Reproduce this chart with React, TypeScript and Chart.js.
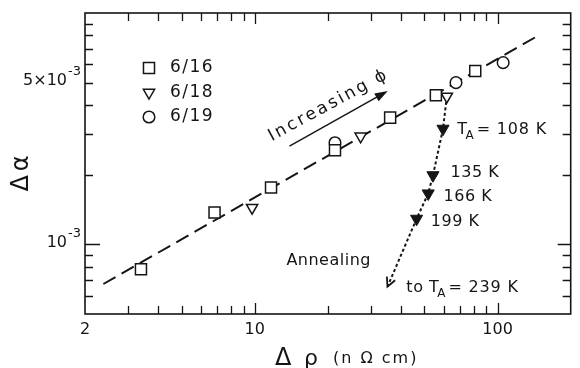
import React, { useEffect, useRef } from "react";
import { Chart, registerables } from "chart.js";

Chart.register(...registerables);

const FONT = '"DejaVu Sans", "Noto Sans", sans-serif';

// axis ranges
const xRange = [2, 200];
const yRange = [5e-4, 1e-2];

// series
const seriesLabels = ["6/16", "6/18", "6/19"];
const run616X = [3.4, 6.83, 11.67, 21.4, 36.1, 55.7, 80.9];
const run616Y = [7.8e-4, 1.374e-3, 1.76e-3, 2.55e-3, 3.53e-3, 4.41e-3, 5.61e-3];
const run618X = [9.75, 27.3, 61.8];
const run618Y = [1.44e-3, 2.93e-3, 4.36e-3];
const run619X = [21.4, 67.4, 105.4];
const run619Y = [2.75e-3, 5.0e-3, 6.1e-3];

// annealed points (filled triangles) and annealing path
const annealedX = [59.6, 54.2, 51.8, 46.4];
const annealedY = [3.16e-3, 1.99e-3, 1.66e-3, 1.29e-3];
const annealPathX = [61.8, 59.6, 54.2, 51.8, 46.4, 35.2];
const annealPathY = [4.36e-3, 3.16e-3, 1.99e-3, 1.66e-3, 1.29e-3, 6.56e-4];

// fitted dashed line
const fitX = [2.38, 145];
const fitY = [6.74e-4, 7.92e-3];

// "increasing phi" arrow (data coords)
const incArrowX = [13.9, 35.3];
const incArrowY = [2.66e-3, 4.6e-3];
const incLabel = { x: 11.75, y: 2.79e-3, text: "Increasing \u03d5", angle: -28.5 };

// text annotations (data coords of left / middle)
const annotationLabels = [
  { x: 68.2, y: 3.13e-3, pre: "", main: "T", sub: "A", post: "= 108 K" },
  { x: 64.0, y: 2.04e-3, pre: "", main: "135 K", sub: "", post: "" },
  { x: 59.9, y: 1.61e-3, pre: "", main: "166 K", sub: "", post: "" },
  { x: 53.1, y: 1.25e-3, pre: "", main: "199 K", sub: "", post: "" },
  { x: 42.1, y: 6.51e-4, pre: "to ", main: "T", sub: "A", post: "= 239 K" },
  { x: 13.5, y: 8.47e-4, pre: "", main: "Annealing", sub: "", post: "" },
];

// ticks
const xMajorTicks = [2, 10, 100];
const xMajorLabels = ["2", "10", "100"];
const xMinorTicks = [3, 4, 5, 6, 7, 8, 9, 20, 30, 40, 50, 60, 70, 80, 90];
const yLongTicks = [1e-3];
const yShortTicks = [6e-4, 7e-4, 8e-4, 9e-4, 2e-3, 3e-3, 4e-3, 5e-3, 6e-3, 7e-3, 8e-3, 9e-3];
const yTickLabelValues = [1e-3, 5e-3];
const yTickLabelBases = ["10", "5\u00d710"];
const yTickLabelExps = ["-3", "-3"];

function pts(xs: number[], ys: number[]) {
  return xs.map((x, i) => ({ x, y: ys[i] }));
}

function setFont(ctx: CanvasRenderingContext2D, size: number, spacing = 0) {
  ctx.font = `${size}px ${FONT}`;
  (ctx as any).letterSpacing = `${spacing}px`;
}

function drawMarker(ctx: CanvasRenderingContext2D, kind: string, x: number, y: number, r: number, fill: string) {
  ctx.beginPath();
  if (kind === "rect") {
    const s = Math.SQRT1_2 * r;
    ctx.rect(x - s, y - s, 2 * s, 2 * s);
  } else if (kind === "circle") {
    ctx.arc(x, y, r, 0, Math.PI * 2);
  } else {
    ctx.moveTo(x, y + r);
    ctx.lineTo(x - r * Math.sin(Math.PI / 3), y - r / 2);
    ctx.lineTo(x + r * Math.sin(Math.PI / 3), y - r / 2);
    ctx.closePath();
  }
  ctx.fillStyle = fill;
  ctx.fill();
  ctx.stroke();
}

const decorPlugin = {
  id: "decor",
  afterDatasetsDraw(chart: any) {
    const ctx: CanvasRenderingContext2D = chart.ctx;
    const xs = chart.scales.x;
    const ys = chart.scales.y;
    const a = chart.chartArea;
    const ink = "#151515";
    ctx.save();
    ctx.strokeStyle = ink;
    ctx.fillStyle = ink;
    ctx.lineWidth = 1.6;
    ctx.setLineDash([]);
    ctx.strokeRect(a.left, a.top, a.right - a.left, a.bottom - a.top);

    // x ticks (inward, bottom and top)
    ctx.lineWidth = 1.3;
    const xTick = (v: number, len: number) => {
      const px = Math.round(xs.getPixelForValue(v)) + 0.5;
      ctx.beginPath();
      ctx.moveTo(px, a.bottom);
      ctx.lineTo(px, a.bottom - len);
      ctx.moveTo(px, a.top);
      ctx.lineTo(px, a.top + len);
      ctx.stroke();
    };
    xMinorTicks.forEach((v) => xTick(v, 8));
    xMajorTicks.slice(1).forEach((v) => xTick(v, 11));

    const yTick = (v: number, lenL: number, lenR: number) => {
      const py = Math.round(ys.getPixelForValue(v)) + 0.5;
      ctx.beginPath();
      ctx.moveTo(a.left, py);
      ctx.lineTo(a.left + lenL, py);
      ctx.moveTo(a.right, py);
      ctx.lineTo(a.right - lenR, py);
      ctx.stroke();
    };
    yShortTicks.forEach((v) => yTick(v, 8, 8));
    yLongTicks.forEach((v) => yTick(v, 15, 13));

    // x tick labels
    setFont(ctx, 16, 0);
    ctx.textAlign = "center";
    ctx.textBaseline = "middle";
    xMajorTicks.forEach((v, i) => {
      ctx.fillText(xMajorLabels[i], xs.getPixelForValue(v), a.bottom + 16);
    });

    // y tick labels with superscripts
    yTickLabelValues.forEach((v, i) => {
      const py = ys.getPixelForValue(v);
      const right = a.left - 4;
      setFont(ctx, 13, 0);
      const ew = ctx.measureText(yTickLabelExps[i]).width;
      ctx.textAlign = "left";
      ctx.fillText(yTickLabelExps[i], right - ew, py - 11);
      setFont(ctx, 16, 0);
      ctx.textAlign = "right";
      ctx.fillText(yTickLabelBases[i], right - ew - 1, py - 2);
    });

    // axis titles
    ctx.save();
    ctx.translate(28, (a.top + a.bottom) / 2 + 8);
    ctx.rotate(-Math.PI / 2);
    setFont(ctx, 24, 4);
    ctx.textAlign = "center";
    ctx.textBaseline = "alphabetic";
    ctx.fillText("\u0394\u03b1", 0, 0);
    ctx.restore();

    ctx.textAlign = "left";
    ctx.textBaseline = "alphabetic";
    setFont(ctx, 24, 0);
    ctx.fillText("\u0394", 275, 365);
    setFont(ctx, 22, 0);
    ctx.fillText("\u03c1", 304, 365);
    setFont(ctx, 16, 2);
    ctx.fillText("(n \u03a9 cm)", 333, 363);

    // legend
    const legendKinds = ["rect", "tri", "circle"];
    const legendR = [7.8, 6.5, 5.8];
    ctx.lineWidth = 1.5;
    seriesLabels.forEach((lab, i) => {
      const ly = a.top + 55 + i * 24.5;
      drawMarker(ctx, legendKinds[i], a.left + 64, ly, legendR[i], "#fff");
      setFont(ctx, 17, 1.5);
      ctx.fillStyle = ink;
      ctx.textAlign = "left";
      ctx.textBaseline = "middle";
      ctx.fillText(lab, a.left + 85, ly);
    });

    // increasing arrow
    const ax1 = xs.getPixelForValue(incArrowX[0]);
    const ay1 = ys.getPixelForValue(incArrowY[0]);
    const ax2 = xs.getPixelForValue(incArrowX[1]);
    const ay2 = ys.getPixelForValue(incArrowY[1]);
    const ang = Math.atan2(ay2 - ay1, ax2 - ax1);
    ctx.lineWidth = 1.5;
    ctx.beginPath();
    ctx.moveTo(ax1, ay1);
    ctx.lineTo(ax2 - 8 * Math.cos(ang), ay2 - 8 * Math.sin(ang));
    ctx.stroke();
    ctx.save();
    ctx.translate(ax2, ay2);
    ctx.rotate(ang);
    ctx.beginPath();
    ctx.moveTo(0, 0);
    ctx.lineTo(-13, -4.5);
    ctx.lineTo(-13, 4.5);
    ctx.closePath();
    ctx.fill();
    ctx.restore();

    // increasing label
    ctx.save();
    ctx.translate(xs.getPixelForValue(incLabel.x), ys.getPixelForValue(incLabel.y));
    ctx.rotate((incLabel.angle * Math.PI) / 180);
    setFont(ctx, 17, 2.5);
    ctx.textAlign = "left";
    ctx.textBaseline = "alphabetic";
    ctx.fillText(incLabel.text, 0, 0);
    ctx.restore();

    // annealing arrow head (open chevron)
    const n = annealPathX.length;
    const hx = xs.getPixelForValue(annealPathX[n - 1]);
    const hy = ys.getPixelForValue(annealPathY[n - 1]);
    const px0 = xs.getPixelForValue(annealPathX[n - 2]);
    const py0 = ys.getPixelForValue(annealPathY[n - 2]);
    const ang2 = Math.atan2(hy - py0, hx - px0);
    ctx.save();
    ctx.translate(hx, hy);
    ctx.rotate(ang2);
    ctx.lineWidth = 1.8;
    ctx.beginPath();
    ctx.moveTo(-9, -4.5);
    ctx.lineTo(0, 0);
    ctx.lineTo(-9, 4.5);
    ctx.stroke();
    ctx.restore();

    // annotation labels
    ctx.textBaseline = "middle";
    ctx.textAlign = "left";
    annotationLabels.forEach((l) => {
      let x = xs.getPixelForValue(l.x);
      const y = ys.getPixelForValue(l.y);
      setFont(ctx, 16, 0.5);
      if (l.pre) {
        ctx.fillText(l.pre, x, y);
        x += ctx.measureText(l.pre).width;
      }
      ctx.fillText(l.main, x, y);
      x += ctx.measureText(l.main).width;
      if (l.sub) {
        x -= 2;
        setFont(ctx, 12, 0);
        ctx.fillText(l.sub, x, y + 6);
        x += ctx.measureText(l.sub).width + 3;
      }
      if (l.post) {
        setFont(ctx, 16, 0.8);
        ctx.fillText(l.post, x, y);
      }
    });

    (ctx as any).letterSpacing = "0px";
    ctx.restore();
  },
};

export default function App() {
  const ref = useRef<HTMLCanvasElement | null>(null);
  useEffect(() => {
    document.body.style.margin = "0";
    const canvas = ref.current;
    if (!canvas) return;
    const ink = "#151515";
    const chart = new Chart(canvas, {
      type: "scatter",
      data: {
        datasets: [
          {
            label: seriesLabels[0],
            data: pts(run616X, run616Y),
            pointStyle: "rect",
            pointRadius: 7.8,
            borderWidth: 1.5,
            borderColor: ink,
            backgroundColor: "#fff",
            order: 0,
          },
          {
            label: seriesLabels[1],
            data: pts(run618X, run618Y),
            pointStyle: "triangle",
            rotation: 180,
            pointRadius: 6.5,
            borderWidth: 1.5,
            borderColor: ink,
            backgroundColor: "#fff",
            order: 0,
          },
          {
            label: seriesLabels[2],
            data: pts(run619X, run619Y),
            pointStyle: "circle",
            pointRadius: 5.8,
            borderWidth: 1.5,
            borderColor: ink,
            backgroundColor: "#fff",
            order: 0,
          },
          {
            label: "annealed",
            data: pts(annealedX, annealedY),
            pointStyle: "triangle",
            rotation: 180,
            pointRadius: 7,
            borderWidth: 1,
            borderColor: ink,
            backgroundColor: ink,
            order: 0,
          },
          {
            label: "fit",
            data: pts(fitX, fitY),
            showLine: true,
            pointRadius: 0,
            borderColor: ink,
            borderWidth: 2,
            borderDash: [14, 7],
            order: 2,
          },
          {
            label: "annealing path",
            data: pts(annealPathX, annealPathY),
            showLine: true,
            pointRadius: 0,
            borderColor: ink,
            borderWidth: 2,
            borderDash: [3, 2.5],
            order: 2,
          },
        ],
      },
      options: {
        animation: false,
        responsive: false,
        devicePixelRatio: 1,
        layout: { padding: { left: 85, right: 1.5, top: 13, bottom: 54 } },
        plugins: { legend: { display: false }, tooltip: { enabled: false } },
        scales: {
          x: { type: "logarithmic", min: xRange[0], max: xRange[1], display: false },
          y: { type: "logarithmic", min: yRange[0], max: yRange[1], display: false },
        },
      },
      plugins: [decorPlugin],
    } as any);
    return () => chart.destroy();
  }, []);
  return (
    <div style={{ width: 580, height: 368, background: "#fff" }}>
      <canvas ref={ref} width={580} height={368} style={{ display: "block" }} />
    </div>
  );
}
